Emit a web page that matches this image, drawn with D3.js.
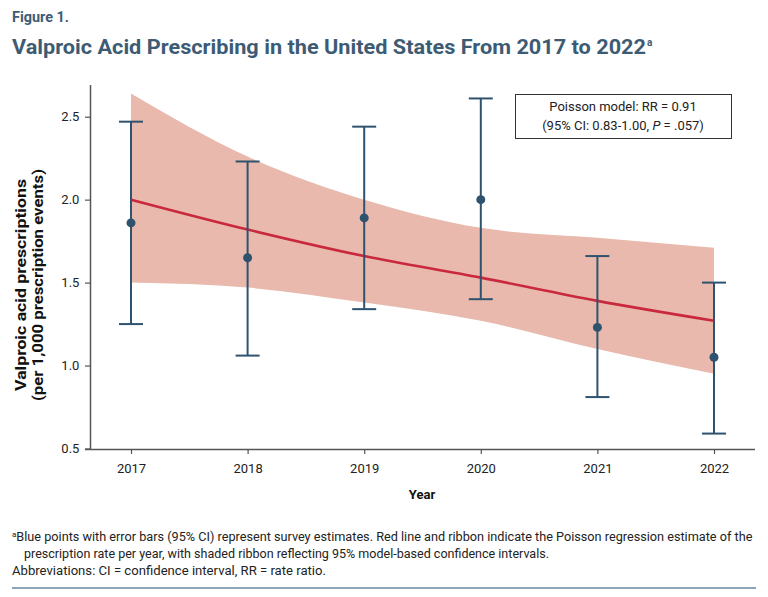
<!DOCTYPE html>
<html>
<head>
<meta charset="utf-8">
<script src="https://cdn.jsdelivr.net/npm/d3@7"></script>
<style>
  body { margin: 0; background: #fff; }
  text { font-family: Roboto, "Noto Sans", sans-serif; }
</style>
</head>
<body>
<script>
const w = 768;
const h = 597;

// survey estimates with 95% CI
const years = [2017, 2018, 2019, 2020, 2021, 2022];
const estimate = [1.86, 1.65, 1.89, 2.00, 1.23, 1.05];
const ciLow = [1.25, 1.06, 1.34, 1.40, 0.81, 0.59];
const ciHigh = [2.47, 2.23, 2.44, 2.61, 1.66, 1.50];

// Poisson model fit and ribbon
const fit = [2.00, 1.82, 1.66, 1.53, 1.39, 1.27];
const fitLow = [1.50, 1.47, 1.38, 1.27, 1.10, 0.95];
const fitHigh = [2.64, 2.26, 2.00, 1.83, 1.77, 1.71];

const yTicks = [0.5, 1.0, 1.5, 2.0, 2.5];

const slate = '#2f526e';
const titleColor = '#3e5b74';

const svg = d3.select('body')
              .append('svg')
              .attr('width', w)
              .attr('height', h);

svg.append('text')
   .attr('x', 12)
   .attr('y', 22)
   .attr('fill', titleColor)
   .attr('font-weight', 'bold')
   .attr('font-size', 15)
   .attr('textLength', 57)
   .attr('lengthAdjust', 'spacingAndGlyphs')
   .text('Figure 1.');

const title = svg.append('text')
   .attr('x', 12)
   .attr('y', 54)
   .attr('fill', titleColor)
   .attr('font-weight', 'bold')
   .attr('font-size', 21);
title.append('tspan')
     .attr('textLength', 634)
     .attr('lengthAdjust', 'spacingAndGlyphs')
     .text('Valproic Acid Prescribing in the United States From 2017 to 2022');
title.append('tspan')
     .attr('font-size', 10)
     .attr('dy', -8)
     .attr('dx', 1)
     .text('a');

const data = years.map((y, i) => ({
  year: y, est: estimate[i], lo: ciLow[i], hi: ciHigh[i],
  fit: fit[i], fitLo: fitLow[i], fitHi: fitHigh[i]
}));

const xScale = d3.scaleLinear()
                 .domain([2017, 2022])
                 .range([131, 714]);
const yScale = d3.scaleLinear()
                 .domain([0.5, 2.5])
                 .range([448.5, 116.7]);

// ribbon
svg.append('path')
   .datum(data)
   .attr('fill', '#e8b9ac')
   .attr('d', d3.area()
                .x(d => xScale(d.year))
                .y0(d => yScale(d.fitLo))
                .y1(d => yScale(d.fitHi))
                .curve(d3.curveMonotoneX));

// fitted line
svg.append('path')
   .datum(data)
   .attr('fill', 'none')
   .attr('stroke', '#c9283d')
   .attr('stroke-width', 2.6)
   .attr('d', d3.line()
                .x(d => xScale(d.year))
                .y(d => yScale(d.fit))
                .curve(d3.curveMonotoneX));

// error bars
const bars = svg.append('g')
                .selectAll('g')
                .data(data)
                .enter()
                .append('g')
                .attr('stroke', slate)
                .attr('stroke-width', 2);
bars.append('line')
    .attr('x1', d => xScale(d.year))
    .attr('x2', d => xScale(d.year))
    .attr('y1', d => yScale(d.lo))
    .attr('y2', d => yScale(d.hi));
bars.append('line')
    .attr('x1', d => xScale(d.year) - 12)
    .attr('x2', d => xScale(d.year) + 12)
    .attr('y1', d => yScale(d.hi))
    .attr('y2', d => yScale(d.hi));
bars.append('line')
    .attr('x1', d => xScale(d.year) - 12)
    .attr('x2', d => xScale(d.year) + 12)
    .attr('y1', d => yScale(d.lo))
    .attr('y2', d => yScale(d.lo));

svg.append('g')
   .selectAll('circle')
   .data(data)
   .enter()
   .append('circle')
   .attr('cx', d => xScale(d.year))
   .attr('cy', d => yScale(d.est))
   .attr('r', 4.5)
   .attr('fill', slate);

// axes
const xAxis = d3.axisBottom(xScale)
                .tickValues(years)
                .tickFormat(d3.format('d'))
                .tickSizeOuter(0)
                .tickSize(5);
const yAxis = d3.axisLeft(yScale)
                .tickValues(yTicks)
                .tickFormat(d3.format('.1f'))
                .tickSizeOuter(0)
                .tickSize(5);

const gx = svg.append('g')
   .attr('transform', 'translate(0,449)')
   .call(xAxis);
gx.select('.domain').attr('d', 'M85,0.5H755');

const gy = svg.append('g')
   .attr('transform', 'translate(90,0)')
   .call(yAxis);
gy.select('.domain').attr('d', 'M0.5,85V449');

[gx, gy].forEach(g => {
  g.select('.domain').attr('stroke', '#555').attr('stroke-width', 1.5);
  g.selectAll('.tick line').attr('stroke', '#555').attr('stroke-width', 1.2);
  g.selectAll('.tick text')
   .attr('fill', '#222')
   .attr('font-size', 13)
   .attr('font-family', 'Roboto, sans-serif');
});
gx.selectAll('.tick text').attr('dy', '1.25em');
gy.selectAll('.tick text').attr('dx', '-0.2em');

svg.append('text')
   .attr('x', 422)
   .attr('y', 499)
   .attr('text-anchor', 'middle')
   .attr('font-weight', 'bold')
   .attr('font-size', 13)
   .attr('fill', '#111')
   .text('Year');

const yLab = svg.append('text')
   .attr('transform', 'translate(26,285) rotate(-90)')
   .attr('text-anchor', 'middle')
   .attr('font-weight', 'bold')
   .attr('font-size', 14)
   .attr('fill', '#111');
yLab.append('tspan').attr('x', 0).attr('dy', 0)
    .attr('textLength', 212).attr('lengthAdjust', 'spacingAndGlyphs')
    .text('Valproic acid prescriptions');
yLab.append('tspan').attr('x', 0).attr('dy', 17)
    .attr('textLength', 232).attr('lengthAdjust', 'spacingAndGlyphs')
    .text('(per 1,000 prescription events)');

// model box
svg.append('rect')
   .attr('x', 515.5)
   .attr('y', 94.5)
   .attr('width', 216)
   .attr('height', 44)
   .attr('fill', '#fff')
   .attr('stroke', '#333')
   .attr('stroke-width', 1);
svg.append('text')
   .attr('x', 623)
   .attr('y', 111)
   .attr('text-anchor', 'middle')
   .attr('font-size', 13)
   .attr('fill', '#222')
   .text('Poisson model: RR = 0.91');
const box2 = svg.append('text')
   .attr('x', 623)
   .attr('y', 130)
   .attr('text-anchor', 'middle')
   .attr('font-size', 13)
   .attr('fill', '#222');
box2.append('tspan').text('(95% CI: 0.83-1.00, ');
box2.append('tspan').attr('font-style', 'italic').text('P');
box2.append('tspan').text(' = .057)');

// footnote
const f1 = svg.append('text')
   .attr('x', 12)
   .attr('y', 541)
   .attr('font-size', 12.5)
   .attr('fill', '#222');
f1.append('tspan').attr('font-size', 8).attr('dy', -4).text('a');
f1.append('tspan')
  .attr('dy', 4)
  .attr('textLength', 736)
  .attr('lengthAdjust', 'spacingAndGlyphs')
  .text('Blue points with error bars (95% CI) represent survey estimates. Red line and ribbon indicate the Poisson regression estimate of the');

svg.append('text')
   .attr('x', 24)
   .attr('y', 558)
   .attr('font-size', 12.5)
   .attr('fill', '#222')
   .attr('textLength', 525)
   .attr('lengthAdjust', 'spacingAndGlyphs')
   .text('prescription rate per year, with shaded ribbon reflecting 95% model-based confidence intervals.');

svg.append('text')
   .attr('x', 12)
   .attr('y', 575)
   .attr('font-size', 12.5)
   .attr('fill', '#222')
   .attr('textLength', 314)
   .attr('lengthAdjust', 'spacingAndGlyphs')
   .text('Abbreviations: CI = confidence interval, RR = rate ratio.');

svg.append('line')
   .attr('x1', 12)
   .attr('x2', 756)
   .attr('y1', 588)
   .attr('y2', 588)
   .attr('stroke', '#8ea5b8')
   .attr('stroke-width', 2);
</script>
</body>
</html>
